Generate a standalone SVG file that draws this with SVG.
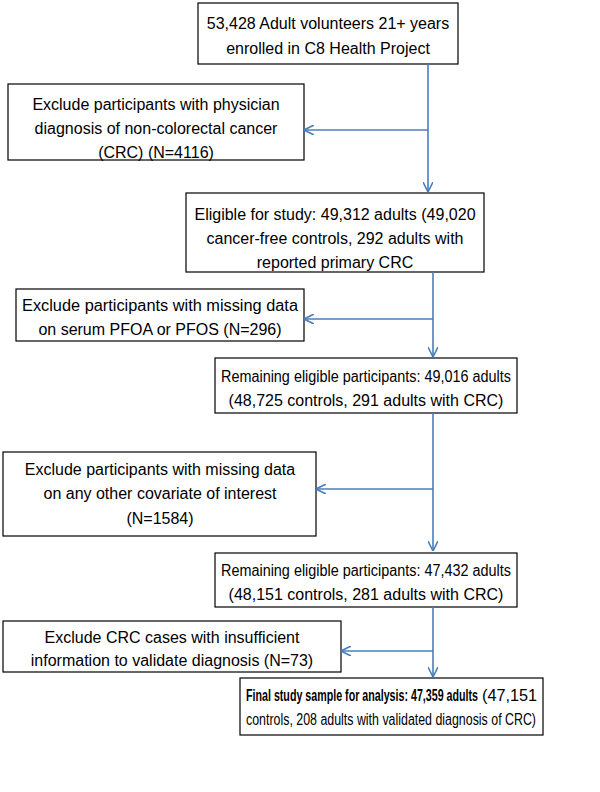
<svg xmlns="http://www.w3.org/2000/svg" width="600" height="792" viewBox="0 0 600 792">
<style>
.b{fill:#fff;stroke:#000;stroke-width:1.2}
text{font-family:"Liberation Sans",Arial,sans-serif;font-size:16px;fill:#000;text-anchor:middle}
.c{stroke:#4a7ebb;stroke-width:1.6;fill:none}
</style>
<defs><marker id="a" markerWidth="10" markerHeight="10" refX="9" refY="5" orient="auto" markerUnits="userSpaceOnUse"><path d="M0,0 L10,5 L0,10" fill="none" stroke="#4a7ebb" stroke-width="1.6"/></marker></defs>
<rect width="600" height="792" fill="#fff"/>
<g id="n1"><rect class="b" x="198" y="3" width="260" height="61"/><text x="328" y="29">53,428 Adult volunteers 21+ years</text><text x="328" y="54">enrolled in C8 Health Project</text></g>
<g id="n2"><rect class="b" x="8" y="84" width="296" height="76"/><text x="156" y="110">Exclude participants with physician</text><text x="156" y="134">diagnosis of non-colorectal cancer</text><text x="156" y="158">(CRC) (N=4116)</text></g>
<g id="n3"><rect class="b" x="186" y="193" width="298" height="79"/><text x="335" y="220">Eligible for study:  49,312 adults (49,020</text><text x="335" y="244">cancer-free controls, 292 adults with</text><text x="335" y="268">reported primary CRC</text></g>
<g id="n4"><rect class="b" x="16" y="289" width="288" height="52"/><text x="160" y="311" textLength="276" lengthAdjust="spacingAndGlyphs">Exclude  participants with missing data</text><text x="160" y="335">on serum PFOA or PFOS (N=296)</text></g>
<g id="n5"><rect class="b" x="215" y="358" width="302" height="55"/><text x="366" y="382" textLength="290" lengthAdjust="spacingAndGlyphs">Remaining eligible participants: 49,016 adults</text><text x="366" y="406">(48,725 controls, 291 adults with CRC)</text></g>
<g id="n6"><rect class="b" x="3" y="452" width="313" height="84"/><text x="160" y="475">Exclude  participants with missing data</text><text x="160" y="499">on any other covariate of interest</text><text x="160" y="524">(N=1584)</text></g>
<g id="n7"><rect class="b" x="215" y="553" width="302" height="54"/><text x="366" y="576" textLength="290" lengthAdjust="spacingAndGlyphs">Remaining eligible participants: 47,432 adults</text><text x="366" y="600">(48,151 controls, 281 adults with CRC)</text></g>
<g id="n8"><rect class="b" x="3" y="621" width="338" height="51"/><text x="172" y="643">Exclude  CRC cases with insufficient</text><text x="172" y="666">information to validate diagnosis (N=73)</text></g>
<g id="n9"><rect class="b" x="240" y="678" width="303" height="57"/><text x="246" y="701" style="text-anchor:start;font-weight:bold" textLength="232" lengthAdjust="spacingAndGlyphs">Final study sample for analysis: 47,359 adults</text><text x="482" y="701" style="text-anchor:start" textLength="55" lengthAdjust="spacingAndGlyphs">(47,151</text><text x="391" y="725" textLength="290" lengthAdjust="spacingAndGlyphs">controls, 208 adults with validated diagnosis of CRC)</text></g>
<g id="connectors">
<path class="c" d="M428,64 V191" marker-end="url(#a)"/>
<path class="c" d="M428,130 H305" marker-end="url(#a)"/>
<path class="c" d="M433,272 V356" marker-end="url(#a)"/>
<path class="c" d="M433,319 H305" marker-end="url(#a)"/>
<path class="c" d="M433,413 V550" marker-end="url(#a)"/>
<path class="c" d="M433,489 H317" marker-end="url(#a)"/>
<path class="c" d="M433,607 V676" marker-end="url(#a)"/>
<path class="c" d="M433,651 H342" marker-end="url(#a)"/>
</g>
</svg>
